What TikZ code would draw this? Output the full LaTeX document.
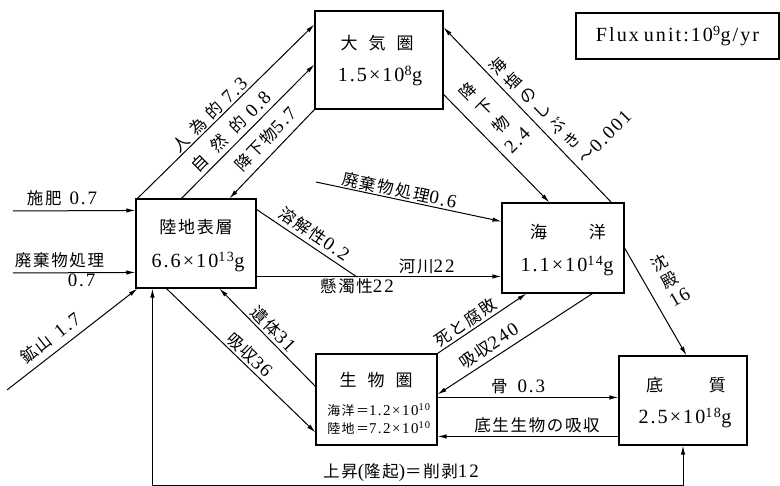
\documentclass[tikz,border=0pt]{standalone}
\usepackage{fontspec}
\setmainfont{Liberation Serif}[Scale=1.15,LetterSpace=10]
\newfontfamily\jf{Noto Sans CJK JP}[LetterSpace=10]
\usetikzlibrary{arrows.meta,calc}
\newcommand\J[1]{{\jf #1}}
\begin{document}
\begin{tikzpicture}[x=1pt,y=-1pt,
 box/.style={draw,line width=1.1pt,inner sep=0pt},
 ar/.style={line width=1pt,-{Latex[length=9pt,width=4.4pt]}},
 ln/.style={line width=1pt},
 lab/.style={font=\fontsize{16.5}{20}\selectfont,inner sep=1pt},
 col/.style={font=\jf\fontsize{16.5}{21}\selectfont,inner xsep=6pt,inner ysep=0pt,anchor=west,align=center},
 ttl/.style={font=\fontsize{17}{20}\selectfont,inner sep=0pt},
 num/.style={font=\fontsize{17.5}{21}\selectfont,inner sep=0pt},
 sml/.style={font=\fontsize{13}{15}\selectfont,inner sep=0pt},
]
\useasboundingbox (0,0) rectangle (780,486);

% boxes
\node[box,minimum width=128pt,minimum height=98pt] (atm) at (379,60) {};
\node[box,minimum width=203pt,minimum height=46pt,font=\fontsize{17.5}{20}\selectfont] (flux) at (677.5,36) {Flux\hspace{5pt}unit:10\textsuperscript{9}g/yr};
\node[box,minimum width=120pt,minimum height=89pt] (land) at (196,243.5) {};
\node[box,minimum width=122pt,minimum height=90pt] (ocean) at (563,248) {};
\node[box,minimum width=121pt,minimum height=91pt] (bio) at (376.5,399.5) {};
\node[box,minimum width=128pt,minimum height=89pt] (sed) at (683,400.5) {};

% box texts
\node[ttl] (atmT) at (377,43) {\J{大\hspace{11pt}気\hspace{11pt}圏}};
\node[num] (atmN) at (380,76) {1.5×10\textsuperscript{8}g};
\node[ttl] (landT) at (196,227) {\J{陸地表層}};
\node[num] (landN) at (198,262) {6.6×10\textsuperscript{13}g};
\node[ttl] (oceanT) at (568,232) {\J{海\hspace{42pt}洋}};
\node[num] (oceanN) at (567,266) {1.1×10\textsuperscript{14}g};
\node[ttl] (bioT) at (376,380) {\J{生\hspace{11pt}物\hspace{11pt}圏}};
\node[sml] (bioA) at (379,410) {\J{海洋＝}1.2×10\textsuperscript{10}};
\node[sml] (bioB) at (379,428) {\J{陸地＝}7.2×10\textsuperscript{10}};
\node[ttl] (sedT) at (686,385) {\J{底\hspace{46pt}質}};
\node[num] (sedN) at (685,418) {2.5×10\textsuperscript{18}g};

% free ends
\coordinate (f0) at (13,211);
\coordinate (w0) at (13,273);
\coordinate (m0) at (7,390);
\coordinate (w6) at (316,182);
\coordinate (j) at (357,277);
\coordinate (b1) at ($(sed.south)+(0,40)$);
\coordinate (b2) at ($(land.south west)+(17,197)$);

% atmosphere <-> land
\draw[ar] ($(land.north west)+(2,0)$) -- node[lab,sloped,above,pos=.444] (lA) {\J{人\hspace{7pt}為\hspace{7pt}的}\hspace{6pt}7.3} ($(atm.north west)+(0,14)$);
\draw[ar] ($(land.north west)+(46,0)$) -- node[lab,sloped,above=3pt,pos=.435] (lB) {\J{自\hspace{11pt}然\hspace{11pt}的}\hspace{6pt}0.8} ($(atm.north west)+(0,54)$);
\draw[ar] (atm.south west) -- node[lab,sloped,above=6pt,pos=.448] (lC) {\J{降下物}5.7} ($(land.north west)+(94,0)$);

% atmosphere <-> ocean
\draw[ar] ($(ocean.north west)+(110,0)$) -- node[col,rotate=45,pos=.472,align=left,inner xsep=5pt] (lD) {海\\塩\\の\\し\\ぶ\\き\\～{\rmfamily 0.001}} ($(atm.north east)+(0,17)$);
\draw[ar] ($(atm.north east)+(0,84)$) -- node[col,rotate=45,pos=.326,font=\jf\fontsize{16.5}{23}\selectfont] (lE) {降\\下\\物\\{\rmfamily 2.4}} ($(ocean.north west)+(48,0)$);

% into ocean
\draw[ar] (w6) -- node[lab,sloped,above=0pt,pos=.44] (lF) {\J{廃棄物処理}0.6} ($(ocean.north west)+(0,19)$);
\draw[ar] ($(land.north east)+(0,78)$) -- node[lab,above=1pt,pos=.695] (lG) {\J{河川}22} node[lab,below=1pt,pos=.41] (lH) {\J{懸濁性}22} ($(ocean.north west)+(0,74)$);
\draw[ln] ($(land.north east)+(0,11)$) -- node[lab,sloped,above=3pt,pos=.51] (lI) {\J{溶解性}0.2} (j);

% ocean -> sediment
\draw[ar] (ocean.east) -- node[col,rotate=30,pos=.40,inner xsep=12pt,font=\jf\fontsize{16.5}{20}\selectfont] (lJ) {沈\\殿\\{\rmfamily 16}} ($(sed.north west)+(68,0)$);

% biosphere <-> ocean
\draw[ar] (bio.north east) -- node[lab,sloped,above=1pt,pos=.379] (lK) {\J{死と腐敗}} ($(ocean.south west)+(25,0)$);
\draw[ar] ($(ocean.south west)+(91,0)$) -- node[lab,sloped,above=4pt,pos=.624] (lL) {\J{吸収}240} ($(bio.north east)+(0,41)$);

% biosphere <-> sediment
\draw[ar] ($(bio.north east)+(0,44)$) -- node[lab,above=2pt,pos=.445] (lM) {\J{骨}\hspace{10pt}0.3} ($(sed.north west)+(0,42)$);
\draw[ar] ($(sed.north west)+(0,81)$) -- node[lab,above=2pt,pos=.45] (lN) {\J{底生生物の吸収}} ($(bio.north east)+(0,83)$);

% land <-> biosphere
\draw[ar] ($(bio.north west)+(0,33)$) -- node[lab,sloped,above=1pt,pos=.513] (lO) {\J{遺体}31} ($(land.south west)+(84,0)$);
\draw[ar] ($(land.south west)+(31,0)$) -- node[lab,sloped,above=1pt,pos=.511] (lP) {\J{吸収}36} ($(bio.north west)+(0,79)$);

% inputs to land
\draw[ar] (f0) -- node[lab,above=3pt,pos=.4] (lQ) {\J{施肥}\hspace{8pt}0.7} ($(land.north west)+(0,12)$);
\draw[ar] (w0) -- node[lab,above=3pt,pos=.38] (lR) {\J{廃棄物処理}} node[lab,below=0pt,pos=.56] (lS) {0.7} ($(land.north west)+(0,74)$);
\draw[ar] (m0) -- node[lab,sloped,above=5pt,pos=.40] (lT) {\J{鉱山}\hspace{8pt}1.7} ($(land.south west)+(2,0)$);

% uplift loop
\draw[ln,{Latex[length=9pt,width=4.4pt]}-{Latex[length=9pt,width=4.4pt]}] (sed.south) -- (b1) -- (b2) -- ($(land.south west)+(17,0)$);
\node[lab] (lU) at (401,473) {\J{上昇}(\J{隆起})\J{＝削剥}12};
\end{tikzpicture}
\end{document}
